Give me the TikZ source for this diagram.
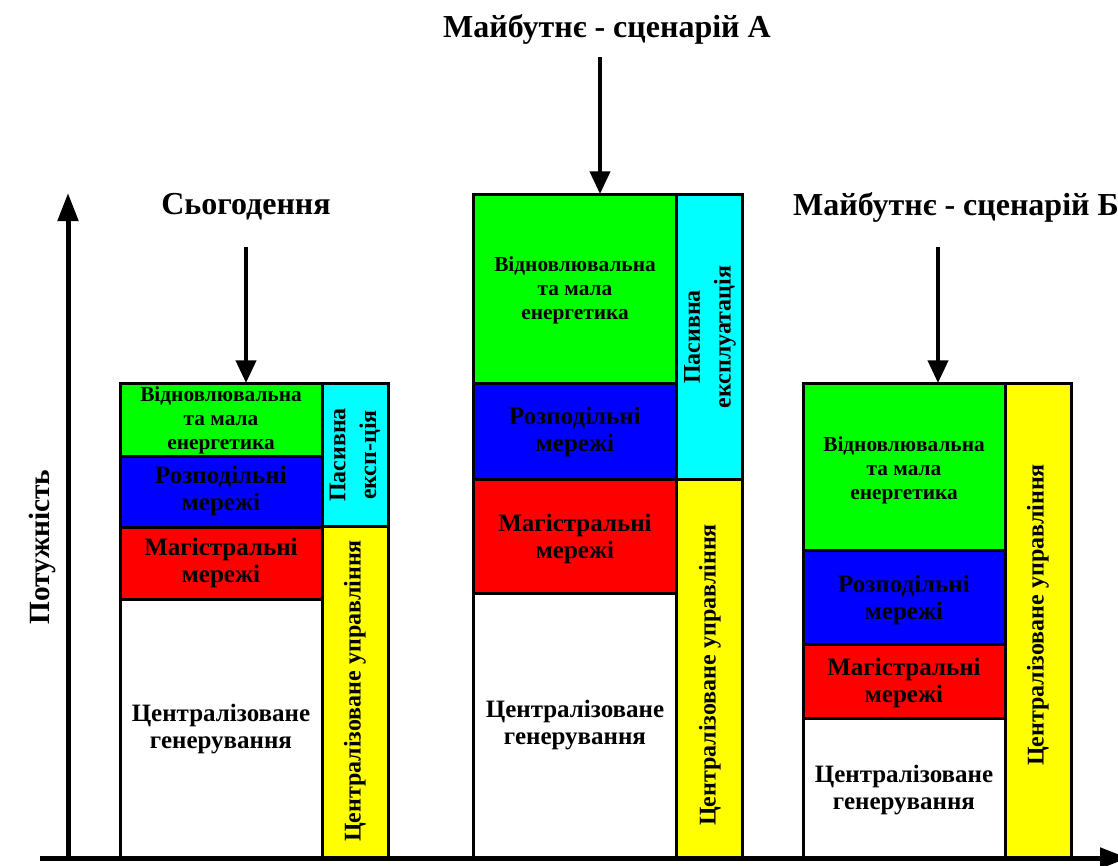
\documentclass[tikz,border=0pt]{standalone}
\usepackage{fontspec}
\setmainfont{Liberation Serif}
\usetikzlibrary{arrows.meta}
\definecolor{vgreen}{RGB}{0,255,0}
\definecolor{vblue}{RGB}{0,0,255}
\definecolor{vred}{RGB}{255,0,0}
\definecolor{vcyan}{RGB}{0,255,255}
\definecolor{vyellow}{RGB}{255,255,0}

\begin{document}
\begin{tikzpicture}[x=0.75pt,y=-0.75pt,
		seg/.style={draw,line width=2.25pt},
		txt/.style={font=\bfseries\fontsize{18.75}{20.5}\selectfont,align=center},
		txtsm/.style={font=\bfseries\fontsize{16}{18}\selectfont,align=center},
		side/.style={font=\bfseries\fontsize{18}{23}\selectfont,align=center,rotate=90},
		ttl/.style={font=\bfseries\fontsize{24}{28}\selectfont},
		arr/.style={line width=3pt,-{Triangle[length=17pt,width=15pt]}},
		axis/.style={line width=3.75pt,-{Triangle[length=21pt,width=15pt]}}]
	\useasboundingbox (0,0) rectangle (1118,865);
	% сьогодення
	\draw[seg,fill=vgreen] (120,383) rectangle (322,456);
	\draw[seg,fill=vblue] (120,456) rectangle (322,527);
	\draw[seg,fill=vred] (120,527) rectangle (322,599);
	\draw[seg,fill=white] (120,599) rectangle (322,858);
	\draw[seg,fill=vcyan] (322,383) rectangle (388,526);
	\draw[seg,fill=vyellow] (322,526) rectangle (388,858);
	\node[txtsm] (ren1) at (221,420) {Відновлювальна\\та мала\\енергетика};
	\node[txt] (dist1) at (221,491) {Розподільні\\мережі};
	\node[txt] (main1) at (221,563) {Магістральні\\мережі};
	\node[txt] (gen1) at (221,729) {Централізоване\\генерування};
	\node[side] (pas1) at (355,455) {Пасивна\\експ-ція};
	\node[side] (ctl1) at (355,691) {Централізоване управління};
	\node[ttl] (t1) at (246,207) {Сьогодення};
	\coordinate (s1) at (246,247);
	\coordinate (top1) at (246,383);
	\draw[arr] (s1) -- (top1);
	% сценарій А
	\draw[seg,fill=vgreen] (473,194) rectangle (676,383);
	\draw[seg,fill=vblue] (473,383) rectangle (676,479);
	\draw[seg,fill=vred] (473,479) rectangle (676,593);
	\draw[seg,fill=white] (473,593) rectangle (676,858);
	\draw[seg,fill=vcyan] (676,194) rectangle (742,479);
	\draw[seg,fill=vyellow] (676,479) rectangle (742,858);
	\node[txtsm] (ren2) at (575,290) {Відновлювальна\\та мала\\енергетика};
	\node[txt] (dist2) at (575,432) {Розподільні\\мережі};
	\node[txt] (main2) at (575,539) {Магістральні\\мережі};
	\node[txt] (gen2) at (575,725) {Централізоване\\генерування};
	\node[side] (pas2) at (710,337) {Пасивна\\експлуатація};
	\node[side] (ctl2) at (710,675) {Централізоване управління};
	\node[ttl] (t2) at (607,29) {Майбутнє - сценарій А};
	\coordinate (s2) at (600,57);
	\coordinate (top2) at (600,194);
	\draw[arr] (s2) -- (top2);
	% сценарій Б
	\draw[seg,fill=vgreen] (803,383) rectangle (1005,550);
	\draw[seg,fill=vblue] (803,550) rectangle (1005,644);
	\draw[seg,fill=vred] (803,644) rectangle (1005,718);
	\draw[seg,fill=white] (803,718) rectangle (1005,858);
	\draw[seg,fill=vyellow] (1005,383) rectangle (1071,858);
	\node[txtsm] (ren3) at (904,470) {Відновлювальна\\та мала\\енергетика};
	\node[txt] (dist3) at (904,600) {Розподільні\\мережі};
	\node[txt] (main3) at (904,683) {Магістральні\\мережі};
	\node[txt] (gen3) at (904,790) {Централізоване\\генерування};
	\node[side] (ctl3) at (1038,615) {Централізоване управління};
	\node[ttl] (t3) at (956,207) {Майбутнє - сценарій Б};
	\coordinate (s3) at (938,247);
	\coordinate (top3) at (938,383);
	\draw[arr] (s3) -- (top3);
	% осі
	\coordinate (o) at (68,858);
	\coordinate (ytop) at (68,193);
	\coordinate (xl) at (40,858);
	\coordinate (xr) at (1128,858);
	\draw[axis] (xl) -- (xr);
	\draw[axis] (o) -- (ytop);
	\node[ttl,font=\bfseries\fontsize{22}{26}\selectfont,rotate=90] (pw) at (42,547) {Потужність};
\end{tikzpicture}
\end{document}
